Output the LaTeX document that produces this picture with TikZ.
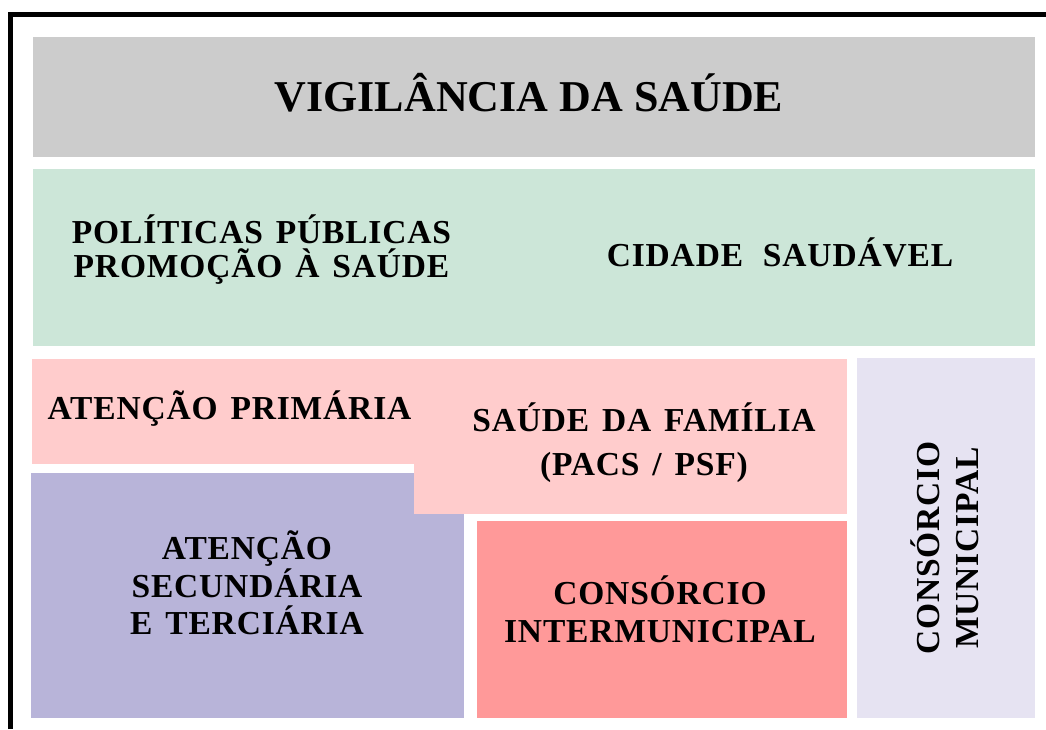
\documentclass[tikz,border=0pt]{standalone}
\usepackage{fontspec}
\setmainfont{Liberation Serif}
\newfontfamily\garfont[LetterSpace=2.5,WordSpace=1.4]{Liberation Serif}
\definecolor{cgray}{HTML}{CCCCCC}
\definecolor{cgreen}{HTML}{CCE6D8}
\definecolor{cpink}{HTML}{FFCCCC}
\definecolor{cpurple}{HTML}{B8B4D9}
\definecolor{cred}{HTML}{FF9999}
\definecolor{clav}{HTML}{E6E3F2}
\begin{document}
\begin{tikzpicture}[x=1pt,y=-1pt,
  lbl/.style={font=\garfont\bfseries\fontsize{33.5}{#1}\selectfont, align=center, inner sep=0pt},
  lbl/.default=37,
  title/.style={font=\bfseries\fontsize{44}{50}\selectfont, inner sep=0pt}]
\useasboundingbox (0,0) rectangle (1046,729);
\fill[white] (0,0) rectangle (1046,729);
\draw[line width=5pt] (10.2,729) -- (10.2,14.8) -- (1046,14.8);
% boxes
\fill[cgray] (33,37) rectangle (1035,157);
\fill[cgreen] (33,169) rectangle (1035,345.7);
\fill[cpurple] (31,473.3) rectangle (464,718);
\fill[cpink] (32,359) rectangle (414,464);
\fill[cpink] (414,359) rectangle (847,513.7);
\fill[cred] (477,521) rectangle (847,718);
\fill[clav] (857,358) rectangle (1035,718);
% texts
\node[title, anchor=base] (vig) at (529,111.7) {VIGILÂNCIA DA SAÚDE};
\node[lbl=34] (pol) at (261.5,250) {POLÍTICAS PÚBLICAS\\PROMOÇÃO À SAÚDE};
\node[lbl, anchor=base] (cid) at (780,266.7) {CIDADE\hspace{7pt} SAUDÁVEL};
\node[lbl, anchor=base] (ap) at (229.5,419) {ATENÇÃO PRIMÁRIA};
\node[lbl=44] (sf) at (644,443) {SAÚDE DA FAMÍLIA\\(PACS / PSF)};
\node[lbl=37.5] (sec) at (247,583) {ATENÇÃO\\SECUNDÁRIA\\E TERCIÁRIA};
\node[lbl=38] (cim) at (660,609) {CONSÓRCIO\\INTERMUNICIPAL};
\node[lbl=39, rotate=90] (cm) at (945,548) {CONSÓRCIO\\MUNICIPAL};
\end{tikzpicture}
\end{document}
